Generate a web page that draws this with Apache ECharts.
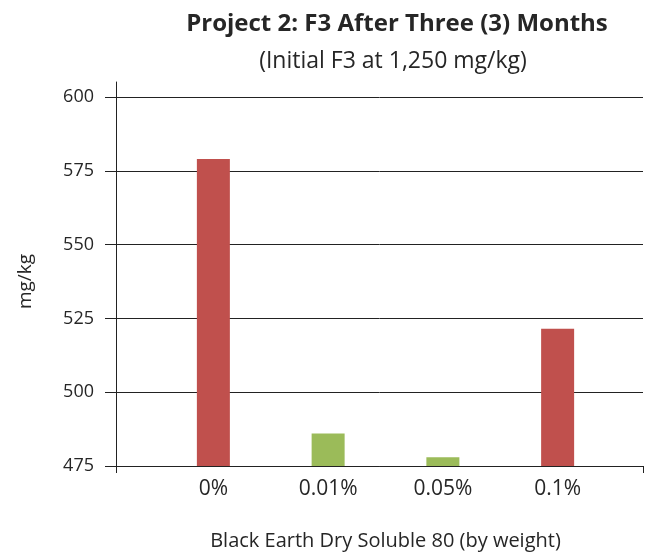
<!DOCTYPE html>
<html>
<head>
<meta charset="utf-8">
<script src="https://cdn.jsdelivr.net/npm/echarts@6/dist/echarts.min.js"></script>
<style>
  html, body { margin: 0; padding: 0; background: #ffffff; }
  #chart { width: 655px; height: 555px; }
</style>
</head>
<body>
<div id="chart"></div>
<script>
// data
const categories = ['0%', '0.01%', '0.05%', '0.1%']
const values = [579, 486, 478, 521.5]
const barColors = ['#C0504D', '#9BBB59', '#9BBB59', '#C0504D']
const yMin = 475
const yMax = 600
const yStep = 25

const font = '"Open Sans", "Liberation Sans", sans-serif'
const textColor = '#262626'

const chart = echarts.init(document.getElementById('chart'))

const option = {
  animation: false,
  title: [
    {
      text: 'Project 2: F3 After Three (3) Months',
      left: 392,
      top: 7,
      textAlign: 'center',
      textStyle: { fontFamily: font, fontSize: 24, fontWeight: 'bold', color: textColor }
    },
    {
      text: '(Initial F3 at 1,250 mg/kg)',
      left: 388,
      top: 45,
      textAlign: 'center',
      textStyle: { fontFamily: font, fontSize: 23, fontWeight: 'normal', color: textColor }
    }
  ],
  grid: [
    // frame: gridlines, y labels, x axis line
    { left: 116, right: 12, top: 97, bottom: 89, outerBoundsMode: 'none', containLabel: false },
    // y axis line reaching a bit above the top gridline
    { left: 116, right: 12, top: 82, bottom: 89, outerBoundsMode: 'none', containLabel: false },
    // bars
    { left: 156, width: 459, top: 97, bottom: 89, outerBoundsMode: 'none', containLabel: false }
  ],
  xAxis: [
    {
      gridIndex: 0, type: 'value', min: 0, max: 1, interval: 1,
      axisLine: { show: true, lineStyle: { color: '#222', width: 1 } },
      axisTick: { show: true, length: 7, lineStyle: { color: '#222' } },
      axisLabel: { show: false },
      splitLine: { show: false }
    },
    {
      gridIndex: 1, type: 'value', min: 0, max: 1, show: false
    },
    {
      gridIndex: 2, type: 'category', data: categories,
      name: 'Black Earth Dry Soluble 80 (by weight)',
      nameLocation: 'middle', nameGap: 65,
      nameTextStyle: { fontFamily: font, fontSize: 20, color: textColor },
      axisLine: { show: false },
      axisTick: { show: false },
      axisLabel: { fontFamily: font, fontSize: 21, color: textColor, margin: 13 }
    }
  ],
  yAxis: [
    {
      gridIndex: 0, type: 'value', min: yMin, max: yMax, interval: yStep,
      name: 'mg/kg', nameLocation: 'middle', nameGap: 81, nameRotate: 90,
      nameTextStyle: { fontFamily: font, fontSize: 19, color: textColor },
      axisLine: { show: false },
      axisTick: { show: true, length: 11, lineStyle: { color: '#222' } },
      axisLabel: { fontFamily: font, fontSize: 18, color: textColor, margin: 22 },
      splitLine: { show: true, lineStyle: { color: '#222', width: 1 } }
    },
    {
      gridIndex: 1, type: 'value', min: 0, max: 1,
      axisLine: { show: true, lineStyle: { color: '#222', width: 1 } },
      axisTick: { show: false },
      axisLabel: { show: false },
      splitLine: { show: false }
    },
    {
      gridIndex: 2, type: 'value', min: yMin, max: yMax, show: false
    }
  ],
  series: [
    {
      type: 'bar',
      xAxisIndex: 2,
      yAxisIndex: 2,
      barWidth: 33,
      data: values.map((v, i) => ({ value: v, itemStyle: { color: barColors[i] } }))
    }
  ]
}

chart.setOption(option)
</script>
</body>
</html>
